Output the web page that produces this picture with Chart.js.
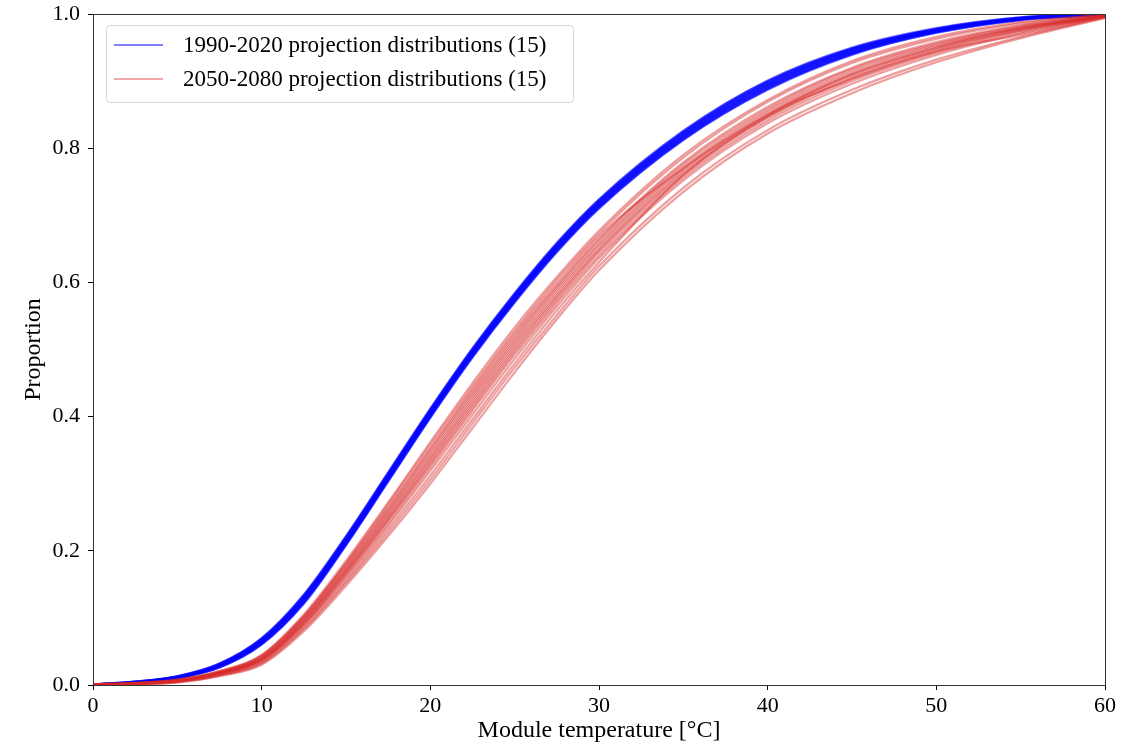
<!DOCTYPE html>
<html><head><meta charset="utf-8">
<script src="https://cdn.jsdelivr.net/npm/chart.js@4"></script>
<style>html,body{margin:0;padding:0;background:#fff;} canvas{display:block;}</style>
</head><body>
<canvas id="c" width="1137" height="745"></canvas>
<script>
// Module temperature sample points (°C)
const xTemps = [0,2.5,5,7.5,10,12.5,15,17.5,20,22.5,25,27.5,30,35,40,45,50,55,60];
const xTickValues = [0,10,20,30,40,50,60];
const yTickValues = [0,0.2,0.4,0.6,0.8,1.0];
const legendLabels = ['1990-2020 projection distributions (15)','2050-2080 projection distributions (15)'];
const xTitle = 'Module temperature [°C]';
const yTitle = 'Proportion';

// 1990-2020 projection CDFs
const blue01 = [.001,.003,.010,.026,.060,.121,.208,.303,.398,.488,.570,.645,.710,.812,.887,.939,.972,.991,.999];
const blue02 = [.001,.003,.010,.026,.061,.122,.209,.304,.399,.489,.571,.646,.711,.813,.888,.940,.972,.991,.999];
const blue03 = [.001,.003,.010,.027,.061,.123,.210,.305,.400,.490,.572,.647,.712,.814,.889,.941,.973,.992,.999];
const blue04 = [.001,.003,.011,.027,.062,.124,.211,.306,.401,.491,.573,.648,.713,.815,.890,.941,.974,.992,.999];
const blue05 = [.001,.004,.011,.028,.063,.125,.212,.307,.402,.492,.574,.649,.714,.816,.891,.942,.974,.992,.999];
const blue06 = [.001,.004,.011,.028,.064,.126,.213,.308,.403,.493,.575,.650,.715,.817,.892,.943,.974,.992,.999];
const blue07 = [.001,.004,.011,.029,.064,.127,.214,.309,.404,.494,.576,.651,.716,.818,.893,.944,.975,.993,.999];
const blue08 = [.001,.004,.011,.029,.065,.128,.215,.310,.405,.495,.577,.652,.717,.819,.894,.945,.975,.993,1.0];
const blue09 = [.001,.004,.012,.029,.066,.129,.216,.311,.406,.496,.578,.653,.718,.820,.895,.945,.976,.993,1.0];
const blue10 = [.001,.004,.012,.030,.066,.130,.217,.312,.407,.497,.579,.654,.719,.821,.896,.946,.976,.994,1.0];
const blue11 = [.001,.004,.012,.030,.067,.131,.218,.313,.408,.498,.580,.655,.720,.822,.897,.947,.977,.994,1.0];
const blue12 = [.001,.005,.012,.031,.068,.132,.219,.314,.409,.499,.581,.656,.721,.823,.898,.948,.977,.994,1.0];
const blue13 = [.001,.005,.013,.031,.069,.133,.220,.315,.410,.500,.582,.657,.722,.824,.899,.948,.978,.994,1.0];
const blue14 = [.001,.005,.013,.032,.069,.134,.221,.316,.411,.501,.583,.658,.723,.825,.900,.949,.978,.995,1.0];
const blue15 = [.001,.005,.013,.032,.070,.135,.222,.317,.412,.502,.584,.659,.724,.826,.901,.950,.979,.995,1.0];

// 2050-2080 projection CDFs
const red01 = [.000,.001,.004,.013,.030,.080,.148,.222,.300,.383,.466,.545,.618,.735,.822,.882,.928,.964,.994];
const red02 = [.000,.001,.004,.014,.032,.083,.152,.227,.306,.390,.473,.551,.624,.741,.827,.887,.932,.966,.995];
const red03 = [.000,.001,.005,.015,.033,.085,.155,.232,.312,.396,.479,.558,.630,.760,.848,.903,.944,.969,.995];
const red04 = [.000,.002,.005,.015,.035,.088,.159,.237,.319,.403,.486,.564,.636,.752,.837,.896,.939,.971,.996];
const red05 = [.000,.002,.006,.016,.036,.090,.162,.241,.324,.409,.492,.569,.640,.756,.841,.900,.942,.973,.996];
const red06 = [.000,.002,.006,.017,.037,.091,.165,.245,.328,.413,.496,.573,.645,.760,.845,.904,.945,.975,.996];
const red07 = [.001,.002,.006,.017,.038,.093,.167,.247,.331,.417,.500,.577,.648,.763,.847,.906,.947,.976,.997];
const red08 = [.001,.002,.006,.018,.038,.094,.169,.250,.335,.421,.504,.580,.651,.766,.850,.909,.949,.977,.997];
const red09 = [.001,.002,.007,.018,.039,.096,.171,.253,.338,.425,.508,.584,.655,.769,.853,.912,.952,.979,.997];
const red10 = [.001,.002,.007,.018,.040,.097,.173,.256,.342,.429,.512,.588,.658,.772,.856,.915,.954,.980,.997];
const red11 = [.001,.003,.007,.019,.041,.099,.175,.259,.346,.433,.516,.592,.662,.776,.859,.918,.956,.982,.998];
const red12 = [.001,.003,.007,.019,.042,.100,.178,.262,.350,.437,.520,.595,.665,.779,.862,.920,.958,.983,.998];
const red13 = [.001,.003,.007,.020,.043,.102,.180,.265,.353,.441,.524,.599,.669,.770,.850,.910,.950,.979,.998];
const red14 = [.001,.003,.008,.020,.044,.103,.182,.269,.358,.445,.528,.604,.673,.786,.869,.927,.963,.986,.999];
const red15 = [.001,.003,.008,.021,.045,.105,.185,.272,.362,.450,.533,.608,.677,.790,.872,.930,.966,.988,.999];

const blueSeries = [blue01,blue02,blue03,blue04,blue05,blue06,blue07,blue08,blue09,blue10,blue11,blue12,blue13,blue14,blue15];
const redSeries = [red01,red02,red03,red04,red05,red06,red07,red08,red09,red10,red11,red12,red13,red14,red15];

const BLUE = 'rgba(0,0,255,0.5)';
const RED = 'rgba(214,39,40,0.45)';
const FONT = '"Liberation Serif", "DejaVu Serif", serif';

function toPts(arr){ return arr.map((v,i)=>({x:xTemps[i], y:v})); }
const datasets = [];
blueSeries.forEach((s,i)=>datasets.push({label: i===0?legendLabels[0]:'', data: toPts(s), borderColor: BLUE, borderWidth: 2.2, pointRadius: 0, cubicInterpolationMode: 'monotone', fill: false, order: 1}));
redSeries.forEach((s,i)=>datasets.push({label: i===0?legendLabels[1]:'', data: toPts(s), borderColor: RED, borderWidth: 2.2, pointRadius: 0, cubicInterpolationMode: 'monotone', fill: false, order: 0}));

const framePlugin = {
  id: 'frame',
  afterDatasetsDraw(chart){
    const a = chart.chartArea, ctx = chart.ctx;
    ctx.save();
    ctx.strokeStyle = '#333'; ctx.lineWidth = 1;
    ctx.strokeRect(Math.round(a.left)+0.5, Math.round(a.top)+0.5, Math.round(a.right-a.left), Math.round(a.bottom-a.top));
    ctx.restore();
  }
};

const legendPlugin = {
  id: 'boxLegend',
  afterDraw(chart){
    const a = chart.chartArea, ctx = chart.ctx;
    const x0 = a.left + 13.5, y0 = a.top + 11.5, w = 467, h = 77, r = 4;
    ctx.save();
    ctx.beginPath();
    ctx.moveTo(x0+r,y0); ctx.lineTo(x0+w-r,y0); ctx.quadraticCurveTo(x0+w,y0,x0+w,y0+r);
    ctx.lineTo(x0+w,y0+h-r); ctx.quadraticCurveTo(x0+w,y0+h,x0+w-r,y0+h);
    ctx.lineTo(x0+r,y0+h); ctx.quadraticCurveTo(x0,y0+h,x0,y0+h-r);
    ctx.lineTo(x0,y0+r); ctx.quadraticCurveTo(x0,y0,x0+r,y0); ctx.closePath();
    ctx.fillStyle = 'rgba(255,255,255,0.8)'; ctx.fill();
    ctx.strokeStyle = '#d6d6d6'; ctx.lineWidth = 1; ctx.stroke();
    const colors = [BLUE, 'rgba(214,39,40,0.4)'];
    ctx.font = '23px ' + FONT; ctx.fillStyle = '#000'; ctx.textBaseline = 'middle'; ctx.textAlign = 'left';
    legendLabels.forEach((t,i)=>{
      const yy = a.top + 31 + i*34;
      ctx.strokeStyle = colors[i]; ctx.lineWidth = 2;
      ctx.beginPath(); ctx.moveTo(a.left+21, yy); ctx.lineTo(a.left+70, yy); ctx.stroke();
      ctx.fillText(t, a.left + 90, yy + 1);
    });
    ctx.restore();
  }
};

new Chart(document.getElementById('c'), {
  type: 'line',
  data: { datasets },
  options: {
    responsive: false, animation: false, devicePixelRatio: 1,
    layout: { padding: { left: 0, top: 14, right: 32, bottom: 0 } },
    plugins: { legend: { display: false }, tooltip: { enabled: false } },
    scales: {
      x: {
        type: 'linear', min: 0, max: 60,
        afterFit(s){ s.height = 60; s.paddingLeft = 0; s.paddingRight = 0; },
        afterBuildTicks(s){ s.ticks = xTickValues.map(v=>({value:v})); },
        ticks: { color: '#000', font: { family: FONT, size: 22 }, padding: 3, maxRotation: 0, callback: v => String(v) },
        grid: { display: true, drawOnChartArea: false, drawTicks: true, tickLength: 5, color: '#000' },
        border: { display: true, color: '#333' },
        title: { display: true, text: xTitle, color: '#000', font: { family: FONT, size: 24 }, padding: { top: 0, bottom: 0 } }
      },
      y: {
        type: 'linear', min: 0, max: 1,
        afterFit(s){ s.width = 93; s.paddingTop = 0; s.paddingBottom = 0; },
        afterBuildTicks(s){ s.ticks = yTickValues.map(v=>({value:v})); },
        ticks: { color: '#000', font: { family: FONT, size: 22 }, padding: 8, callback: v => Number(v).toFixed(1) },
        grid: { display: true, drawOnChartArea: false, drawTicks: true, tickLength: 5, color: '#000' },
        border: { display: true, color: '#333' },
        title: { display: true, text: yTitle, color: '#000', font: { family: FONT, size: 24 }, padding: { top: 19, bottom: 0 } }
      }
    }
  },
  plugins: [framePlugin, legendPlugin]
});
</script>
</body></html>
